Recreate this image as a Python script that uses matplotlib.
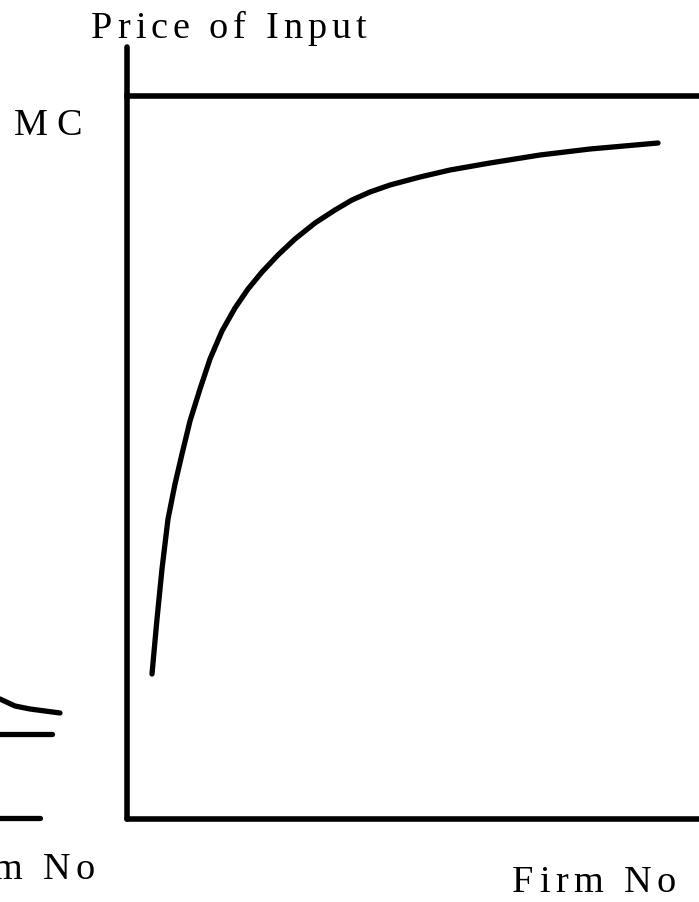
import numpy as np
import matplotlib.pyplot as plt
from matplotlib.font_manager import FontProperties

plt.rcParams['font.family'] = ['Liberation Serif', 'DejaVu Serif']

# Supply curve (firm number vs price) in pixel units
curve_x = [152, 157, 162, 168, 175, 182, 190, 200, 210, 222, 235, 248, 262, 278,
           295, 315, 335, 352, 370, 390, 420, 450, 490, 540, 590, 658]
curve_y = [675, 620, 570, 520, 485, 455, 422, 390, 360, 332, 309, 290, 273, 256,
           240, 224, 211, 201, 193, 186, 178, 171, 164, 156, 150, 144]

# Left neighbour panel remnants (cut off at the figure edge)
left_curve_x = [0, 15, 30, 45, 60]
left_curve_y = [700, 707, 710, 712, 714]

# Axes frame and MC line
axis_x = 127
axis_top = 48
axis_bottom = 820
mc_level = 97

# labels: text, left ink x, right ink x, baseline y
labels = [
    ("Price of Input", 91, 366, 38),
    ("MC", 14, 82, 135),
    ("Firm No", 512, 676, 892),
]
left_label = ("Firm No", 95, 879)  # right edge, cut off by the figure

FONT_SIZE = 27.5


def spaced_text(ax, renderer, s, x_left, x_right, base, size=FONT_SIZE):
    """Lay out a string char by char so it spans x_left..x_right."""
    prop = FontProperties(family='Liberation Serif', size=size)
    widths = []
    for c in s:
        if c == " ":
            widths.append(size * 100 / 72 * 0.25)
        else:
            widths.append(renderer.get_text_width_height_descent(c, prop, ismath=False)[0])
    gap = (x_right - x_left - sum(widths)) / (len(s) - 1)
    x = x_left
    for c, w in zip(s, widths):
        # skip characters that would lie wholly outside the figure
        if c != " " and x + w > 0:
            ax.text(x, base, c, fontproperties=prop, ha='left', va='baseline')
        x += w + gap


fig = plt.figure(figsize=(6.99, 9.03), dpi=100)
ax = fig.add_axes([0, 0, 1, 1])
ax.set_xlim(0, 699)
ax.set_ylim(903, 0)
ax.set_axis_off()
renderer = fig.canvas.get_renderer()

lw = 4.0
ax.plot([axis_x, axis_x], [axis_top, axis_bottom], color='black', lw=lw, solid_capstyle='round')
ax.plot([axis_x, 699], [axis_bottom, axis_bottom], color='black', lw=lw, solid_capstyle='round')
ax.plot([axis_x, 699], [mc_level, mc_level], color='black', lw=lw)
ax.plot(curve_x, curve_y, color='black', lw=3.8, solid_capstyle='round', solid_joinstyle='round')

# left panel bits
ax.plot(left_curve_x, left_curve_y, color='black', lw=3.8, solid_capstyle='round')
ax.plot([0, 52], [735, 735], color='black', lw=3.8, solid_capstyle='round')
ax.plot([0, 40], [819, 819], color='black', lw=3.8, solid_capstyle='round')

for s, x0, x1, base in labels:
    spaced_text(ax, renderer, s, x0, x1, base)

# same label as the bottom right one, shifted so only its tail shows
s, x1, base = left_label
w_firm = labels[2][2] - labels[2][1]
spaced_text(ax, renderer, s, x1 - w_firm, x1, base)

fig.savefig("out.png", dpi=100)
